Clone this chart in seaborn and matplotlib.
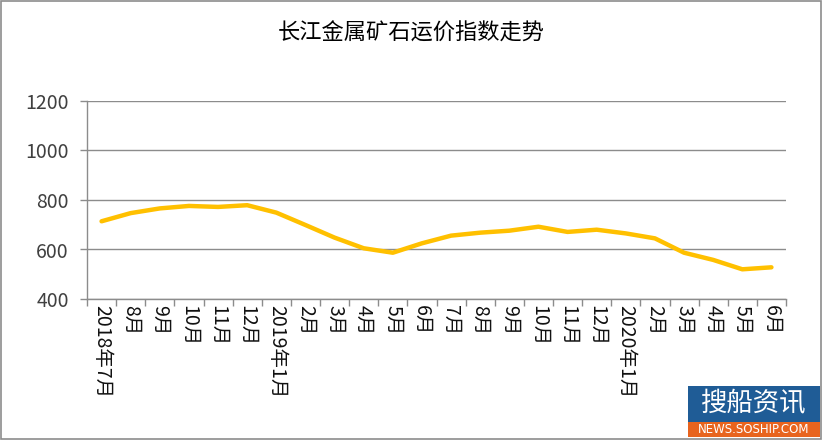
import matplotlib
matplotlib.use("Agg")
import matplotlib.pyplot as plt
import seaborn as sns
import pandas as pd
from matplotlib.patches import Rectangle
from matplotlib.ticker import FixedLocator

months = ["2018年7月", "8月", "9月", "10月", "11月", "12月",
          "2019年1月", "2月", "3月", "4月", "5月", "6月", "7月", "8月", "9月", "10月", "11月", "12月",
          "2020年1月", "2月", "3月", "4月", "5月", "6月"]
values = [714, 747, 766, 776, 772, 779,
          749, 699, 648, 605, 587, 625, 656, 668, 676, 692, 671, 680,
          665, 645, 587, 558, 520, 528]
yticks = [400, 600, 800, 1000, 1200]
title = "长江金属矿石运价指数走势"

sns.set_theme(style="white")
plt.rcParams['font.family'] = ['Noto Sans CJK SC', 'DejaVu Sans']

df = pd.DataFrame({"x": range(len(values)), "v": values})

fig = plt.figure(figsize=(8.23, 4.40), dpi=100)
ax = fig.add_axes([87/823, 1 - 299/440, (786 - 87)/823, (299 - 101)/440])

sns.lineplot(data=df, x="x", y="v", ax=ax, color="#FFC000", linewidth=3.2,
             solid_joinstyle="round", solid_capstyle="round")

ax.set_xlim(-0.5, len(values) - 0.5)
ax.set_ylim(400, 1200)
ax.set_yticks(yticks)
ax.set_yticklabels([str(t) for t in yticks], fontsize=14, color="#404040")
ax.grid(axis="y", color="#8C8C8C", linewidth=1)
ax.set_axisbelow(True)

ax.set_xticks(range(len(months)))
ax.set_xticklabels(months, rotation=270, fontsize=14, color="#111111",
                   va="top", ha="center")
ax.xaxis.set_minor_locator(FixedLocator([i - 0.5 for i in range(len(months) + 1)]))
ax.tick_params(axis="x", which="major", length=0, pad=4)
ax.tick_params(axis="x", which="minor", length=5, width=1, color="#8C8C8C", bottom=True, direction="out")
ax.tick_params(axis="y", which="major", length=5, width=1, color="#8C8C8C", left=True, direction="out", pad=8)

ax.set_xlabel("")
ax.set_ylabel("")
for s in ["top", "right"]:
    ax.spines[s].set_visible(False)
for s in ["left", "bottom"]:
    ax.spines[s].set_color("#8C8C8C")
    ax.spines[s].set_linewidth(1)

fig.text(411/823, 1 - 33/440, title, ha="center", va="center", fontsize=16, color="#000000")

# outer border
fig.patches.append(Rectangle((0.001, 0.002), 0.997, 0.996, transform=fig.transFigure,
                             fill=False, edgecolor="#8C8C8C", linewidth=1.2))

# watermark logo
fig.patches.append(Rectangle((688/823, 1 - 422/440), (820 - 688)/823, (422 - 386)/440,
                             transform=fig.transFigure, facecolor="#1F5C96", edgecolor="none"))
fig.patches.append(Rectangle((688/823, 1 - 437/440), (820 - 688)/823, (437 - 422)/440,
                             transform=fig.transFigure, facecolor="#E8641E", edgecolor="none"))
fig.text(754/823, 1 - 404/440, "搜船资讯", ha="center", va="center", fontsize=19, color="white")
fig.text(754/823, 1 - 429.5/440, "NEWS.SOSHIP.COM", ha="center", va="center", fontsize=8.5, color="white",
         family=["DejaVu Sans"])

fig.savefig("out.png", dpi=100)
